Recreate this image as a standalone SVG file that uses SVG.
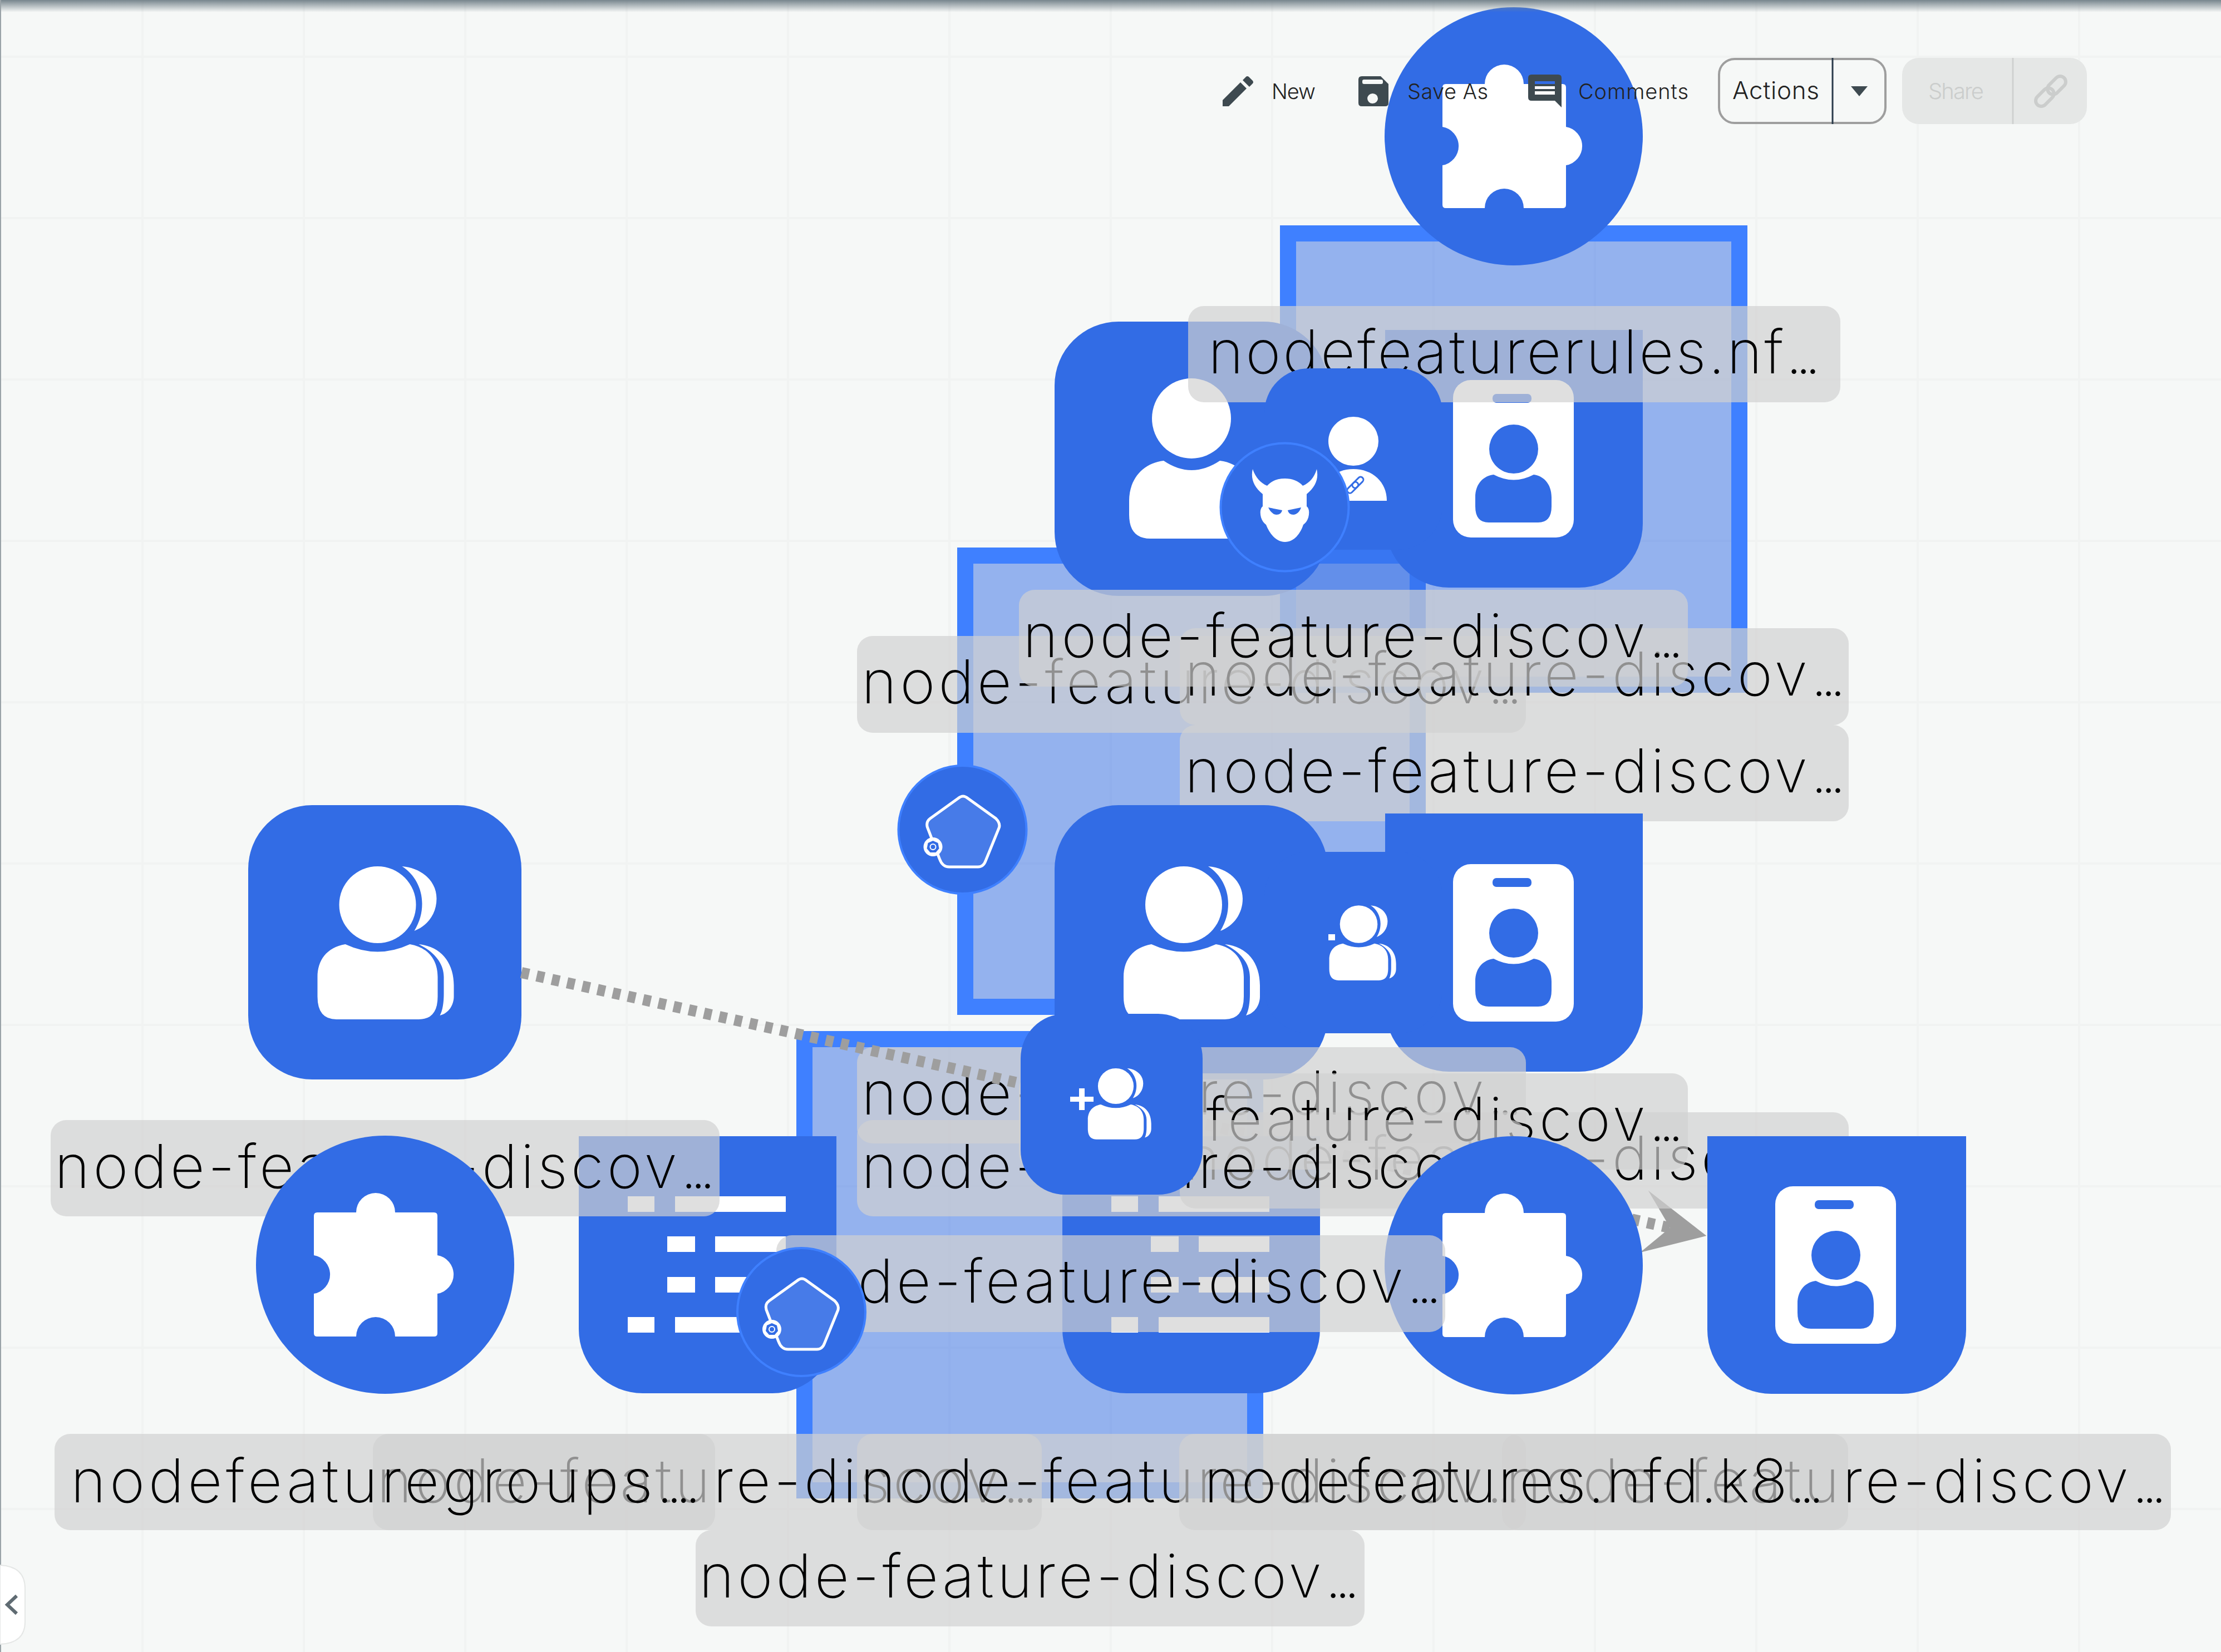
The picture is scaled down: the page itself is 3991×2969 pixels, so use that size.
<svg xmlns="http://www.w3.org/2000/svg" width="3991" height="2969" viewBox="0 0 3991 2969">
<style>
.n{fill:#326ce5}
.w{fill:#fff}
.grp{fill:rgba(50,108,229,.5);stroke:#3f80ff;stroke-width:29}
.role{fill:#326ce5;stroke:#3f80ff;stroke-width:4}
.lb{fill:rgba(208,208,208,.69)}
.t{font-family:"Inter","Lato","Liberation Sans",sans-serif;font-weight:250;font-size:108px;fill:#000}
.d{letter-spacing:-13px}
.tb{font-family:"Inter","Lato","Liberation Sans",sans-serif;font-weight:300;font-size:38px;fill:#222}
.gl{stroke:#f1f3f2;stroke-width:4;fill:none}
</style>
<defs>
<linearGradient id="topg" x1="0" y1="0" x2="0" y2="1"><stop offset="0" stop-color="#77858d"/><stop offset="1" stop-color="#77858d" stop-opacity="0"/></linearGradient>
<marker id="ah" markerUnits="userSpaceOnUse" viewBox="-70 -65 140 130" refX="0" refY="0" markerWidth="140" markerHeight="130" orient="auto"><path d="M65 0L-55 -57L-2 0L-45 55Z" fill="#9e9e9e"/></marker>
<path id="puzzle" d="M-122 -94H-52A35 35 0 0 1 18 -94H88Q94 -94 94 -88V-17A35 35 0 0 1 94 52V123Q94 129 88 129H18A35 35 0 0 0 -52 129H-122Q-128 129 -128 123V52A35 35 0 0 0 -128 -17V-88Q-128 -94 -122 -94Z" fill="#fff"/>
<g id="user-group-icon" fill="#fff">
<ellipse cx="0" cy="0" rx="69" ry="69"/>
<path d="M44 -69C80 -66 106 -42 106 -11C106 16 90 38 66 47C76 30 80 15 80 -2C80 -30 66 -55 44 -69Z"/>
<path d="M-108 130C-108 100 -92 77 -58 71Q0 98 58 71C92 77 108 100 108 130V165Q108 206 74 206H-74Q-108 206 -108 165Z"/>
<path d="M74 71C115 75 137 105 137 145V165C137 180 128 195 112 199C117 190 119 175 119 160V130C119 105 102 85 74 71Z"/>
</g>
<g id="card-icon">
<rect x="-109" y="-139" width="217" height="283" rx="32" fill="#fff"/>
<rect x="-38" y="-114" width="70" height="16" rx="7" class="n"/>
<ellipse cx="0" cy="-15" rx="44" ry="44" class="n"/>
<path d="M-69 72C-69 46 -53 33 -36 31Q0 50 36 31C52 33 68 46 68 72V88Q68 117 44 117H-45Q-69 117 -69 88Z" class="n"/>
</g>
<g id="doc-lines" fill="#fff">
<rect x="88" y="108" width="48" height="28"/><rect x="173" y="108" width="199" height="28"/>
<rect x="159" y="180" width="50" height="28"/><rect x="245" y="180" width="127" height="28"/>
<rect x="159" y="253" width="50" height="28"/><rect x="245" y="253" width="127" height="28"/>
<rect x="88" y="325" width="48" height="28"/><rect x="173" y="325" width="199" height="28"/>
</g>
<g id="pentagon">
<path d="M1 -60Q-3 -60 -8 -56L-58 -20Q-66 -14 -63 -4L-41 53Q-36 67 -24 67H28Q38 67 42 55L66 -4Q68 -12 60 -20L10 -56Q5 -60 1 -60Z" fill="#477be8" stroke="#fff" stroke-width="5"/>
<circle cx="-53" cy="31" r="17" fill="#fff"/>
<polygon points="-53,20 -44,24 -42,34 -48,41 -58,41 -64,34 -62,24" fill="#326ce5"/>
<circle cx="-53" cy="31" r="5" fill="none" stroke="#fff" stroke-width="2"/>
</g>
</defs>
<rect id="bg" width="3991" height="2969" fill="#f6f8f7"/>
<g id="grid" class="gl">
<path d="M256 0V2969M546 0V2969M836 0V2969M1126 0V2969M1416 0V2969M1706 0V2969M1996 0V2969M2286 0V2969M2576 0V2969M2866 0V2969M3156 0V2969M3446 0V2969M3736 0V2969"/>
<path d="M0 102H3991M0 392H3991M0 682H3991M0 972H3991M0 1262H3991M0 1552H3991M0 1842H3991M0 2132H3991M0 2422H3991M0 2712H3991"/>
</g>
<g id="group-b"><rect class="grp" x="1734.5" y="998.5" width="813" height="811"/></g>
<g id="group-c"><rect class="grp" x="1445.5" y="1867.5" width="810" height="811"/></g>
<g id="group-a"><rect class="grp" x="2314.5" y="419.5" width="811" height="811"/></g>

<g id="node-user-top"><rect class="n" x="1895" y="578" width="491" height="493" rx="115"/>
<ellipse class="w" cx="2141" cy="752" rx="71" ry="72"/>
<path class="w" d="M2029 900C2029 860 2055 832 2091 828Q2141 862 2192 828C2227 832 2253 860 2253 900V925Q2253 968 2215 968H2067Q2029 968 2029 925Z"/></g>
<g id="node-sa-top"><path class="n" d="M2489 593H2952V941A115 115 0 0 1 2837 1056H2604A115 115 0 0 1 2489 941Z"/><use href="#card-icon" x="2720" y="822"/></g>
<g id="label-rules"><rect class="lb" x="2135" y="550" width="1172" height="173" rx="28"/><text class="t" x="2171" y="671"><tspan textLength="1034" lengthAdjust="spacing">nodefeaturerules.nf</tspan><tspan class="d">...</tspan></text></g>
<g id="node-user-link"><rect class="n" x="2272" y="662" width="320" height="326" rx="80"/>
<ellipse class="w" cx="2432" cy="793" rx="45" ry="44"/>
<path class="w" d="M2372 900C2372 866 2398 843 2432 843C2466 843 2492 866 2492 900Z"/>
<g fill="none" stroke="#326ce5" stroke-width="3" transform="rotate(-45 2435 872)"><rect x="2417" y="867" width="24" height="10" rx="5"/><rect x="2430" y="867" width="24" height="10" rx="5"/></g></g>
<g id="node-role-admin"><circle class="role" cx="2308.5" cy="911.5" r="115"/>
<path class="w" fill-rule="evenodd" d="M2251 843C2256 858 2265 868 2277 873C2285 864 2296 860 2309 860C2322 860 2333 864 2341 873C2353 868 2362 858 2366 843C2370 860 2364 875 2348 888V910C2353 914 2353 922 2351 930C2349 936 2346 940 2342 943C2337 958 2326 974 2309 974C2292 974 2281 958 2275 943C2271 940 2268 936 2266 930C2264 922 2264 914 2269 910V888C2253 875 2247 860 2251 843ZM2279 912L2304 917C2303 922 2299 925 2294 925C2288 925 2282 919 2279 912ZM2338 912L2314 917C2315 922 2319 925 2324 925C2330 925 2336 919 2338 912Z"/></g>
<g id="node-puzzle-top"><circle class="n" cx="2720" cy="245" r="232"/><use href="#puzzle" x="2720" y="245"/></g>

<g id="label-b"><rect class="lb" x="1540" y="1143" width="1202" height="174" rx="28"/><text class="t" x="1548" y="1264"><tspan textLength="1119" lengthAdjust="spacing">node-feature-discov</tspan><tspan class="d">...</tspan></text></g>
<g id="label-c"><rect class="lb" x="2120" y="1129" width="1202" height="174" rx="28"/><text class="t" x="2129" y="1250"><tspan textLength="1119" lengthAdjust="spacing">node-feature-discov</tspan><tspan class="d">...</tspan></text></g>
<g id="label-a"><rect class="lb" x="1831" y="1060" width="1202" height="174" rx="28"/><text class="t" x="1838" y="1181"><tspan textLength="1119" lengthAdjust="spacing">node-feature-discov</tspan><tspan class="d">...</tspan></text></g>
<g id="label-d"><rect class="lb" x="2120" y="1303" width="1202" height="173" rx="28"/><text class="t" x="2129" y="1424"><tspan textLength="1119" lengthAdjust="spacing">node-feature-discov</tspan><tspan class="d">...</tspan></text></g>

<g id="node-role-pentagon-b"><circle class="role" cx="1729.5" cy="1491" r="115"/><use href="#pentagon" x="1729.5" y="1491"/></g>
<g id="node-user-mid"><rect class="n" x="1895" y="1447" width="491" height="493" rx="115"/><use href="#user-group-icon" x="2127" y="1626"/></g>
<g id="node-sa-mid"><path class="n" d="M2489 1462H2952V1811A115 115 0 0 1 2837 1926H2604A115 115 0 0 1 2489 1811Z"/><use href="#card-icon" x="2720" y="1692"/></g>
<g id="node-user-small"><rect class="n" x="2272" y="1531" width="320" height="326" rx="80"/>
<use href="#user-group-icon" transform="translate(2441.5 1661) scale(.49)"/><rect class="w" x="2387" y="1679" width="12" height="11"/></g>
<g id="node-user-left"><rect class="n" x="446" y="1447" width="491" height="493" rx="115"/><use href="#user-group-icon" x="678.5" y="1626"/></g>

<g id="label-f"><rect class="lb" x="1540" y="1882" width="1202" height="173" rx="28"/><text class="t" x="1548" y="2003"><tspan textLength="1119" lengthAdjust="spacing">node-feature-discov</tspan><tspan class="d">...</tspan></text></g>
<g id="connectors"><path d="M937 1748L3003 2207" fill="none" stroke="#9e9e9e" stroke-width="20" stroke-dasharray="14 14" marker-end="url(#ah)"/></g>

<g id="node-doc-left"><path class="n" d="M1040 2042H1503V2389A115 115 0 0 1 1388 2504H1155A115 115 0 0 1 1040 2389Z"/><use href="#doc-lines" x="1040" y="2042"/></g>
<g id="node-doc-mid"><path class="n" d="M1909 2042H2372V2389A115 115 0 0 1 2257 2504H2024A115 115 0 0 1 1909 2389Z"/><use href="#doc-lines" x="1909" y="2042"/></g>

<g id="label-e"><rect class="lb" x="91" y="2013" width="1202" height="173" rx="28"/><text class="t" x="98" y="2135"><tspan textLength="1119" lengthAdjust="spacing">node-feature-discov</tspan><tspan class="d">...</tspan></text></g>
<g id="label-i"><rect class="lb" x="2120" y="1999" width="1202" height="173" rx="28"/><text class="t" x="2129" y="2120"><tspan textLength="1119" lengthAdjust="spacing">node-feature-discov</tspan><tspan class="d">...</tspan></text></g>
<g id="label-h"><rect class="lb" x="1831" y="1929" width="1202" height="173" rx="28"/><text class="t" x="1838" y="2050"><tspan textLength="1119" lengthAdjust="spacing">node-feature-discov</tspan><tspan class="d">...</tspan></text></g>
<g id="label-g"><rect class="lb" x="1540" y="2013" width="1202" height="173" rx="28"/><text class="t" x="1548" y="2135"><tspan textLength="1119" lengthAdjust="spacing">node-feature-discov</tspan><tspan class="d">...</tspan></text></g>

<g id="node-puzzle-left"><circle class="n" cx="692" cy="2273" r="232"/><use href="#puzzle" x="692" y="2273"/></g>
<g id="node-puzzle-right"><circle class="n" cx="2720" cy="2274" r="232"/><use href="#puzzle" x="2720" y="2274"/></g>
<g id="node-sa-right"><path class="n" d="M3068 2042H3533V2390A115 115 0 0 1 3418 2505H3183A115 115 0 0 1 3068 2390Z"/><use href="#card-icon" x="3299" y="2271"/></g>
<g id="node-user-add"><rect class="n" x="1834" y="1822" width="327" height="325" rx="80"/>
<use href="#user-group-icon" transform="translate(2005 1952) scale(.465)"/>
<path class="w" d="M1939 1956h10v15h16v9h-16v15h-10v-15h-16v-9h16z"/></g>
<g id="label-j"><rect class="lb" x="1395" y="2220" width="1202" height="174" rx="28"/><text class="t" x="1403" y="2341"><tspan textLength="1119" lengthAdjust="spacing">node-feature-discov</tspan><tspan class="d">...</tspan></text></g>
<g id="node-role-pentagon-c"><circle class="role" cx="1440" cy="2358" r="115"/><use href="#pentagon" x="1440" y="2358"/></g>

<g id="label-l"><rect class="lb" x="670" y="2577" width="1202" height="173" rx="28"/><text class="t" x="677" y="2700"><tspan textLength="1119" lengthAdjust="spacing">node-feature-discov</tspan><tspan class="d">...</tspan></text></g>
<g id="label-k"><rect class="lb" x="98" y="2577" width="1187" height="173" rx="28"/><text class="t" x="127" y="2700"><tspan textLength="1046" lengthAdjust="spacing">nodefeaturegroups</tspan><tspan class="d">....</tspan></text></g>
<g id="label-m"><rect class="lb" x="1540" y="2577" width="1202" height="173" rx="28"/><text class="t" x="1546" y="2700"><tspan textLength="1119" lengthAdjust="spacing">node-feature-discov</tspan><tspan class="d">...</tspan></text></g>
<g id="label-o"><rect class="lb" x="2699" y="2577" width="1202" height="173" rx="28"/><text class="t" x="2706" y="2700"><tspan textLength="1119" lengthAdjust="spacing">node-feature-discov</tspan><tspan class="d">...</tspan></text></g>
<g id="label-n"><rect class="lb" x="2119" y="2577" width="1202" height="173" rx="28"/><text class="t" x="2164" y="2700"><tspan textLength="1048" lengthAdjust="spacing">nodefeatures.nfd.k8</tspan><tspan class="d">...</tspan></text></g>
<g id="label-p"><rect class="lb" x="1250" y="2750" width="1202" height="173" rx="28"/><text class="t" x="1256" y="2871"><tspan textLength="1119" lengthAdjust="spacing">node-feature-discov</tspan><tspan class="d">...</tspan></text></g>

<g id="toolbar">
<path d="M2197 191V180L2229 148L2240 159L2208 191ZM2233 144L2239 138Q2241 136 2244 138L2251 145Q2253 148 2251 150L2245 156Z" fill="#3e4a50"/>
<text class="tb" x="2285" y="178" textLength="79">New</text>
<path fill-rule="evenodd" fill="#3e4a50" d="M2447 137H2481L2495 151V185Q2495 191 2489 191H2447Q2441 191 2441 185V143Q2441 137 2447 137ZM2451 143Q2448 143 2448 146V148Q2448 151 2451 151H2482Q2485 151 2485 148V146Q2485 143 2482 143ZM2466.5 168A9.5 9 0 1 0 2466.6 186A9.5 9 0 1 0 2466.5 168Z"/>
<text class="tb" x="2529" y="178" textLength="145">Save As</text>
<path fill-rule="evenodd" fill="#3e4a50" d="M2752 134H2800Q2806 134 2806 140V193L2794 181H2752Q2746 181 2746 175V140Q2746 134 2752 134ZM2758 146V151H2794V146ZM2758 155V160H2794V155ZM2758 164V170H2794V164Z"/>
<text class="tb" x="2836" y="178" textLength="198">Comments</text>
<rect x="3089" y="106" width="299" height="115" rx="28" fill="none" stroke="#9e9e9e" stroke-width="4"/>
<path d="M3293 104V223" stroke="#2a3a4a" stroke-width="3"/>
<text class="tb" x="3113" y="178" style="font-size:44px" textLength="156">Actions</text>
<path d="M3326 155H3356L3341 173Z" fill="#3e4a50"/>
<rect x="3418" y="104" width="332" height="119" rx="30" fill="#e5e7e6"/>
<path d="M3617 104V223" stroke="#cfd1d0" stroke-width="3"/>
<text class="tb" x="3465" y="178" style="font-size:40px;fill:#cbcdcc" textLength="100">Share</text>
<g fill="none" stroke="#cbcdcc" stroke-width="6" transform="rotate(-45 3685 164)"><rect x="3651" y="154" width="38" height="20" rx="10"/><rect x="3681" y="154" width="38" height="20" rx="10"/></g>
</g>
<g id="chrome">
<rect width="3991" height="22" fill="url(#topg)"/>
<rect width="2" height="2969" fill="#9aa3a8"/>
<path d="M0 2813Q45 2815 45 2855V2915Q45 2953 0 2955Z" fill="#fff" stroke="#e5e7e6" stroke-width="2"/>
<path d="M30 2868L13 2884L30 2900" fill="none" stroke="#5f6b72" stroke-width="6"/>
</g>
</svg>
